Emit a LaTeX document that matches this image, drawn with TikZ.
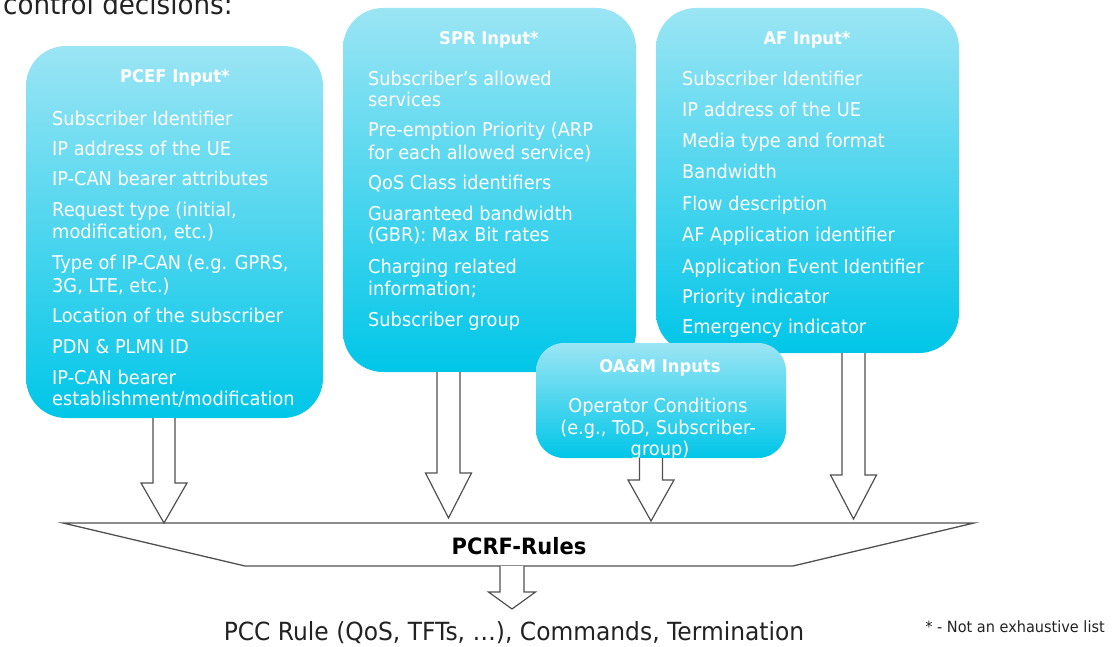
\documentclass[tikz,border=0pt]{standalone}
\usepackage{fontspec}
\setmainfont{DejaVu Sans}[FakeStretch=0.935]
\usetikzlibrary{calc}
\definecolor{boxtop}{RGB}{155,229,244}
\definecolor{boxbot}{RGB}{0,198,232}
\definecolor{darktxt}{RGB}{34,34,34}
\definecolor{lines}{RGB}{80,80,80}
\tikzset{
  inbox/.style={draw=none, rounded corners=40pt, top color=boxtop, bottom color=boxbot, inner sep=0pt},
  btitle/.style={text=white, font=\bfseries\fontsize{17.5}{20}\selectfont, inner sep=0pt, anchor=base},
  bitem/.style={text=white, font=\fontsize{19}{21}\selectfont, inner sep=0pt, anchor=base west},
  bcenter/.style={text=white, font=\fontsize{19}{21}\selectfont, inner sep=0pt, anchor=base},
  arrline/.style={draw=lines, line width=1.2pt, fill=white, line join=miter},
}
\newcommand\blockarrow[5]{% start, tip, head length, half shaft, half head
  \draw[arrline] let \p1=(#1), \p2=(#2) in
   (\x1-#4pt,\y1) -- (\x1-#4pt,\y2+#3pt) -- (\x1-#5pt,\y2+#3pt) -- (\x2,\y2)
   -- (\x1+#5pt,\y2+#3pt) -- (\x1+#4pt,\y2+#3pt) -- (\x1+#4pt,\y1);}
\begin{document}
\begin{tikzpicture}[x=1pt,y=-1pt]
\useasboundingbox (0,0) rectangle (1117,647);

\node[text=darktxt, font=\fontsize{28}{32}\selectfont, anchor=base west, inner sep=0pt] (hdr) at (3,15) {control decisions:};

% boxes
\node[inbox, minimum width=297pt, minimum height=372pt] (pcef) at (174.5,232) {};
\node[inbox, minimum width=293pt, minimum height=364pt] (spr) at (489.5,190) {};
\node[inbox, minimum width=303pt, minimum height=345pt] (af) at (807.5,180.5) {};
\node[inbox, rounded corners=28pt, minimum width=250pt, minimum height=115pt] (oam) at (661,400.5) {};

% PCEF text
\node[btitle] (pceft) at (175,83) {PCEF Input*};
\foreach \t/\y [count=\i] in {Subscriber Identifier/126, IP address of the UE/156, IP-CAN bearer attributes/186,
  {Request type (initial,}/217, {modification, etc.)}/239, {Type of IP-CAN (e.g. GPRS,}/270, {3G, LTE, etc.)}/292,
  Location of the subscriber/322, PDN \& PLMN ID/353, IP-CAN bearer/384, {establishment/modification}/405}
  \node[bitem] (pcef\i) at (52,\y) {\t};

% SPR text
\node[btitle] (sprt) at (489,45) {SPR Input*};
\foreach \t/\y [count=\i] in {Subscriber’s allowed/86, services/107, Pre-emption Priority (ARP/137,
  for each allowed service)/160, QoS Class identifiers/190, Guaranteed bandwidth/221,
  {(GBR): Max Bit rates}/242, Charging related/273, information;/295, Subscriber group/326}
  \node[bitem] (spr\i) at (368,\y) {\t};

% AF text
\node[btitle] (aft) at (807,45) {AF Input*};
\foreach \t/\y [count=\i] in {Subscriber Identifier/86, IP address of the UE/117, Media type and format/148,
  Bandwidth/179, Flow description/211, AF Application identifier/242, Application Event Identifier/273,
  Priority indicator/303, Emergency indicator/334}
  \node[bitem] (af\i) at (682,\y) {\t};

% OA&M text
\node[btitle] (oamt) at (660,372) {OA\&M Inputs};
\node[bcenter] (oam1) at (658,412) {Operator Conditions};
\node[bcenter] (oam2) at (658,434) {(e.g., ToD, Subscriber-};
\node[bcenter] (oam3) at (660,455) {group)};

% PCRF shape
\draw[draw=lines, line width=1.3pt, line join=miter] (63,523) -- (974,523) -- (793,566) -- (245,566) -- cycle;
\node[text=black, font=\bfseries\fontsize{22.5}{24}\selectfont, inner sep=0pt] (pcrf) at (519,546) {PCRF-Rules};

% arrow tips
\coordinate (t1) at (164,523);
\coordinate (t2) at (448.5,518);
\coordinate (t3) at (651,521);
\coordinate (t4) at (853.5,519);
\coordinate (s5) at (512,566);
\coordinate (t5) at (512,609);

\blockarrow{pcef.south -| t1}{t1}{40}{11}{23}
\blockarrow{spr.south -| t2}{t2}{45}{11.5}{23}
\blockarrow{oam.south -| t3}{t3}{41}{11.5}{23}
\blockarrow{af.south -| t4}{t4}{44}{11.5}{23}
\blockarrow{s5}{t5}{17}{12}{23.5}

\node[text=darktxt, font=\fontsize{25}{27}\selectfont, inner sep=0pt] (out) at (514,633) {PCC Rule (QoS, TFTs, …), Commands, Termination};
\node[text=darktxt, font=\fontsize{15.5}{17}\selectfont, inner sep=0pt] (note) at (1015,627) {* - Not an exhaustive list};
\end{tikzpicture}
\end{document}
